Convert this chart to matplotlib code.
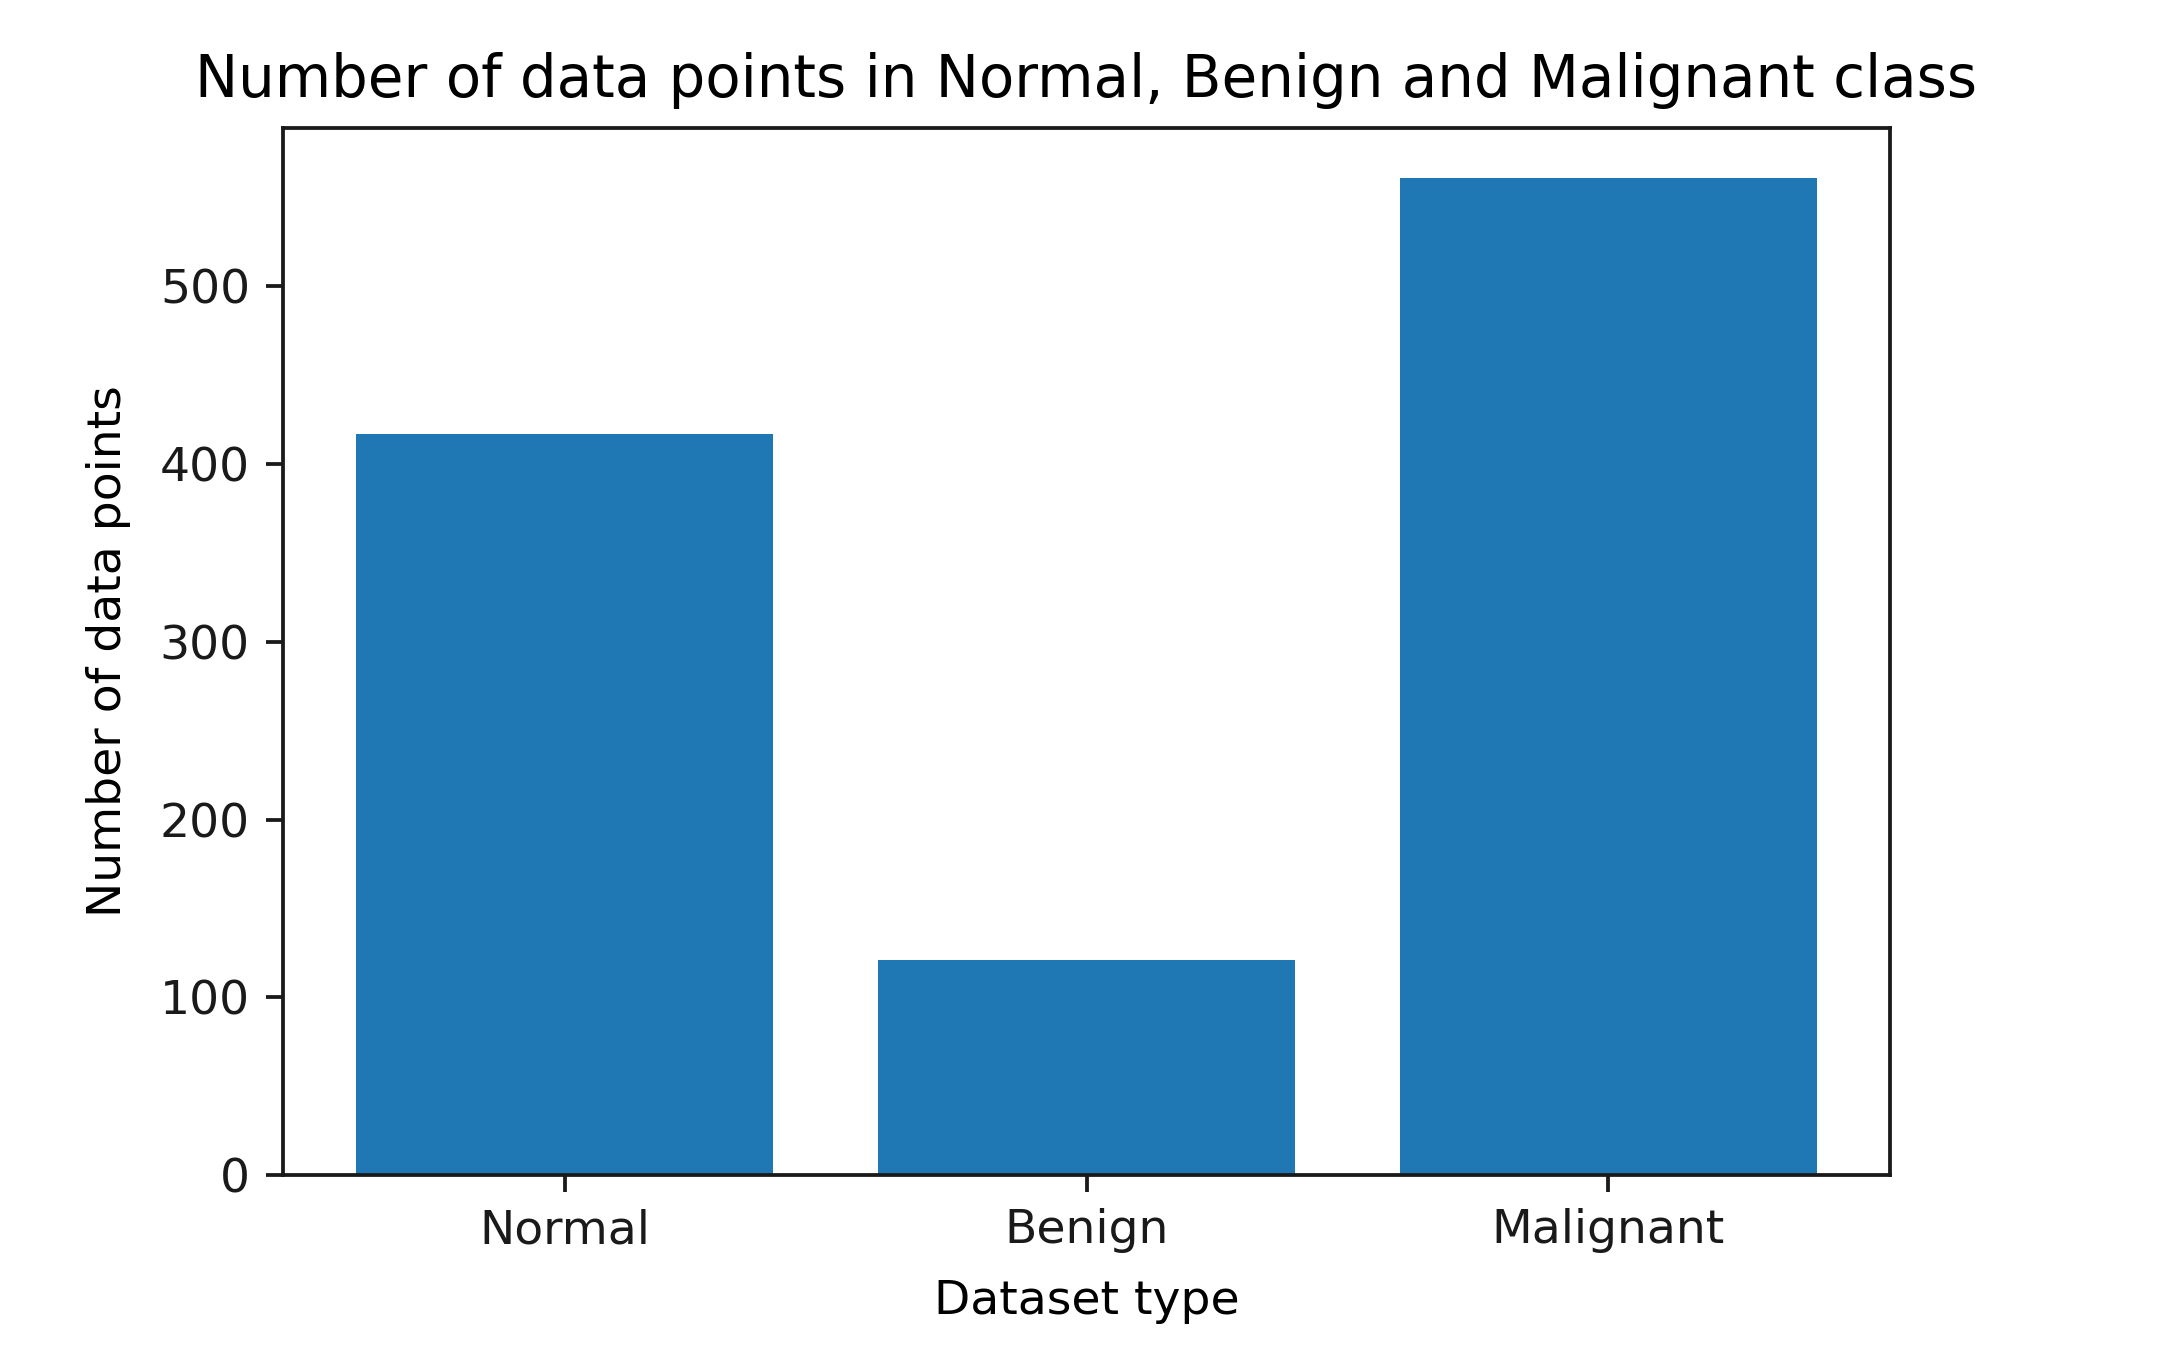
import matplotlib
matplotlib.use("Agg")
import matplotlib.pyplot as plt

# class counts
classes = ["Normal", "Benign", "Malignant"]
counts = [417, 121, 561]

k = 3.4  # scale relative to matplotlib defaults

fig = plt.figure(figsize=(21.76, 13.72), dpi=100)
ax = fig.add_axes([283 / 2176, 1 - 1175 / 1372, (1890 - 283) / 2176, (1175 - 128) / 1372])

ax.bar(classes, counts, width=0.8, color="#1f77b4")

ax.set_title("Number of data points in Normal, Benign and Malignant class", fontsize=12.25 * k, pad=6.5 * k)
ax.set_xlabel("Dataset type", fontsize=10 * k, labelpad=5.5 * k)
ax.set_ylabel("Number of data points", fontsize=10 * k, labelpad=6 * k)
ax.tick_params(labelsize=10 * k, length=3.5 * k, width=0.8 * k, pad=3.5 * k, colors="#1a1a1a")
for s in ax.spines.values():
    s.set_linewidth(0.8 * k)
    s.set_color("#1a1a1a")

fig.savefig("out.png", dpi=100)
